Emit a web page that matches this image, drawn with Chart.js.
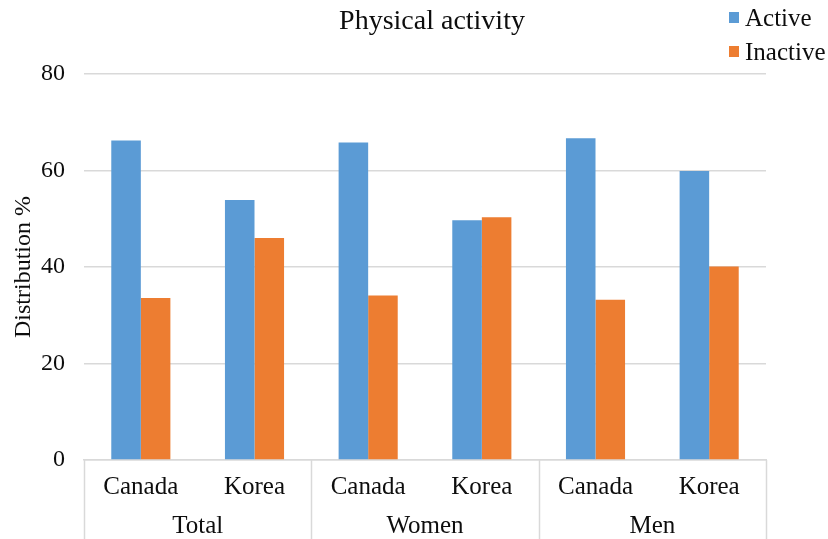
<!DOCTYPE html>
<html>
<head>
<meta charset="utf-8">
<script src="https://cdn.jsdelivr.net/npm/chart.js@4/dist/chart.umd.min.js"></script>
<style>
  html, body { margin: 0; padding: 0; background: #fff; }
  #wrap { width: 828px; height: 539px; }
</style>
</head>
<body>
<div id="wrap"><canvas id="c" width="828" height="539"></canvas></div>
<script>
// Physical activity distribution (%) by country, grouped by sex
const categories = ['Canada', 'Korea', 'Canada', 'Korea', 'Canada', 'Korea'];
const groups = ['Total', 'Women', 'Men'];
const activeValues = [66.2, 53.9, 65.8, 49.7, 66.7, 59.9];
const inactiveValues = [33.6, 46.0, 34.1, 50.3, 33.2, 40.1];
const yTicks = [0, 20, 40, 60, 80];

const FONT = '"Liberation Serif", "Times New Roman", serif';
const TEXT = '#0d0d0d';
const GRID = '#d9d9d9';

// Title, legend, group labels and group separators under the category axis
const decorations = {
  id: 'decorations',
  afterDraw(chart) {
    const ctx = chart.ctx;
    const x = chart.scales.x;
    const area = chart.chartArea;
    ctx.save();

    // Title
    ctx.fillStyle = TEXT;
    ctx.font = '28px ' + FONT;
    ctx.textAlign = 'center';
    ctx.textBaseline = 'middle';
    ctx.fillText('Physical activity', 432, 22);

    // Legend
    ctx.font = '25px ' + FONT;
    ctx.textAlign = 'left';
    chart.data.datasets.forEach((ds, i) => {
      const cy = 18 + i * 34;
      ctx.fillStyle = ds.backgroundColor;
      ctx.fillRect(729, cy - 6, 10, 11);
      ctx.fillStyle = TEXT;
      ctx.fillText(ds.label, 745, cy + 1);
    });

    // Group separators and labels
    const n = groups.length;
    const per = categories.length / n;
    const step = (x.right - x.left) / categories.length;
    ctx.strokeStyle = GRID;
    ctx.lineWidth = 1.5;
    for (let g = 0; g <= n; g++) {
      const px = Math.round(x.left + g * per * step) + 0.5;
      ctx.beginPath();
      ctx.moveTo(px, area.bottom);
      ctx.lineTo(px, chart.height);
      ctx.stroke();
    }
    ctx.font = '25px ' + FONT;
    ctx.fillStyle = TEXT;
    ctx.textAlign = 'center';
    groups.forEach((name, g) => {
      const cx = x.left + (g + 0.5) * per * step;
      ctx.fillText(name, cx, 526);
    });
    ctx.restore();
  }
};

new Chart(document.getElementById('c'), {
  type: 'bar',
  data: {
    labels: categories,
    datasets: [
      { label: 'Active', data: activeValues, backgroundColor: '#5B9BD5' },
      { label: 'Inactive', data: inactiveValues, backgroundColor: '#ED7D31' }
    ]
  },
  options: {
    responsive: false,
    animation: false,
    layout: { padding: { top: 74, right: 62, left: 0, bottom: 0 } },
    plugins: {
      legend: { display: false },
      title: { display: false },
      tooltip: { enabled: false }
    },
    datasets: {
      bar: { categoryPercentage: 0.52, barPercentage: 1.0 }
    },
    scales: {
      x: {
        grid: { display: false, drawTicks: false },
        border: { display: true, color: GRID, width: 1.5 },
        ticks: {
          color: TEXT,
          font: { family: FONT, size: 25 },
          padding: 12,
          maxRotation: 0,
          autoSkip: false
        },
        afterFit(scale) { scale.height = 79; }
      },
      y: {
        min: 0,
        max: 80,
        afterBuildTicks(scale) { scale.ticks = yTicks.map(v => ({ value: v })); },
        grid: { color: GRID, lineWidth: 1.5, drawTicks: false },
        border: { display: false },
        ticks: {
          color: TEXT,
          font: { family: FONT, size: 24 },
          padding: 19
        },
        title: {
          display: true,
          text: 'Distribution %',
          color: TEXT,
          font: { family: FONT, size: 24 },
          padding: { top: 9, bottom: 0 }
        },
        afterFit(scale) { scale.width = 84; }
      }
    }
  },
  plugins: [decorations]
});
</script>
</body>
</html>
